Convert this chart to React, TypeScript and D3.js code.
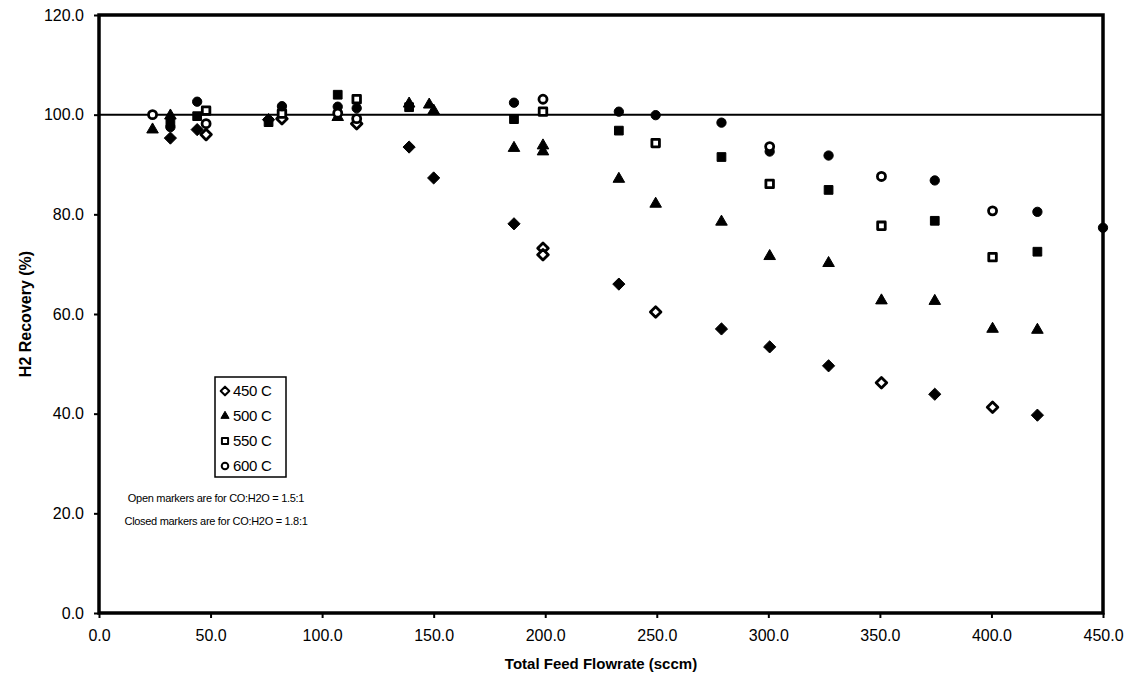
import React, { useEffect, useRef } from "react";
import * as d3 from "d3";

// [flowrate sccm, H2 recovery %]
const t450Closed: [number, number][] = [
  [32, 95.3], [44, 97.0], [76, 99.0], [139, 93.5], [150, 87.3], [186, 78.1],
  [233, 66.0], [279, 57.0], [300.6, 53.4], [327, 49.6], [374.6, 43.9], [420.6, 39.7],
];
const t450Open: [number, number][] = [
  [48, 96.0], [82, 99.2], [115.5, 98.2], [199, 73.2], [199, 71.9],
  [249.5, 60.4], [350.7, 46.2], [400.5, 41.3],
];
const t500Closed: [number, number][] = [
  [24, 97.0], [32, 99.8], [107, 99.5], [139, 102.2], [148, 102.0], [186, 93.3],
  [233, 87.1], [279, 78.5], [327, 70.2], [374.6, 62.6], [420.6, 56.8],
];
const t500Open: [number, number][] = [
  [150, 100.8], [199, 93.8], [199, 92.6], [249.5, 82.1], [300.6, 71.6],
  [350.7, 62.7], [400.5, 57.0],
];
const t550Closed: [number, number][] = [
  [32, 98.5], [44, 99.7], [76, 98.5], [107, 104.0], [139, 101.5], [186, 99.1],
  [233, 96.8], [279, 91.5], [327, 84.9], [374.6, 78.7], [420.6, 72.5],
];
const t550Open: [number, number][] = [
  [48, 100.8], [82, 100.2], [115.5, 103.1], [199, 100.6], [249.5, 94.3],
  [300.6, 86.1], [350.7, 77.7], [400.5, 71.4],
];
const t600Closed: [number, number][] = [
  [32, 97.5], [44, 102.6], [82, 101.7], [107, 101.6], [115.5, 101.3], [186, 102.4],
  [233, 100.6], [249.5, 99.9], [279, 98.4], [300.6, 92.6], [327, 91.8],
  [374.6, 86.8], [420.6, 80.5], [450, 77.3],
];
const t600Open: [number, number][] = [
  [24, 100.0], [48, 98.2], [107, 100.3], [115.5, 99.2], [199, 103.1],
  [300.6, 93.6], [350.7, 87.6], [400.5, 80.7],
];

const xTicks = [0, 50, 100, 150, 200, 250, 300, 350, 400, 450];
const yTicks = [0, 20, 40, 60, 80, 100, 120];
const legendLabels = ["450 C", "500 C", "550 C", "600 C"];
const notes = [
  "Open markers are for CO:H2O = 1.5:1",
  "Closed markers are for CO:H2O = 1.8:1",
];

const FONT = "'Liberation Sans', Arial, sans-serif";

export default function App() {
  const ref: any = useRef(null);

  useEffect(() => {
    document.body.style.margin = "0";
    const width = 1133;
    const height = 686;
    const m = { left: 99, right: 1103, top: 15, bottom: 613 };

    d3.select(ref.current).selectAll("*").remove();
    const svg = d3
      .select(ref.current)
      .append("svg")
      .attr("width", width)
      .attr("height", height)
      .style("display", "block")
      .style("background", "#fff");

    const x = d3.scaleLinear().domain([0, 450]).range([m.left, m.right]);
    const y = d3.scaleLinear().domain([0, 120]).range([m.bottom, m.top]);

    // axes (ticks + labels only, frame drawn separately)
    const xAxis = svg
      .append("g")
      .attr("transform", `translate(0, ${m.bottom})`)
      .call(
        d3.axisBottom(x).tickValues(xTicks).tickSize(5).tickPadding(12)
          .tickFormat((d: any) => d3.format(".1f")(d))
      );
    const yAxis = svg
      .append("g")
      .attr("transform", `translate(${m.left}, 0)`)
      .call(
        d3.axisLeft(y).tickValues(yTicks).tickSize(5).tickPadding(10)
          .tickFormat((d: any) => d3.format(".1f")(d))
      );
    [xAxis, yAxis].forEach((g) => {
      g.select(".domain").remove();
      g.selectAll("line").attr("stroke", "#000").attr("stroke-width", 2);
      g.selectAll("text")
        .attr("fill", "#000")
        .style("font-family", FONT)
        .style("font-size", "16px");
    });

    // reference line at 100 %
    svg
      .append("line")
      .attr("x1", m.left)
      .attr("x2", m.right)
      .attr("y1", y(100))
      .attr("y2", y(100))
      .attr("stroke", "#000")
      .attr("stroke-width", 2);

    // plot frame
    svg
      .append("rect")
      .attr("x", m.left)
      .attr("y", m.top)
      .attr("width", m.right - m.left)
      .attr("height", m.bottom - m.top)
      .attr("fill", "none")
      .attr("stroke", "#000")
      .attr("stroke-width", 3.5);

    const shapes: any = {
      "450": { type: d3.symbolDiamond2, size: 95 },
      "500": { type: d3.symbolTriangle, size: 58 },
      "550": { type: d3.symbolSquare, size: 76 },
      "600": { type: d3.symbolCircle, size: 68 },
    };

    const series = [
      { key: "450", data: t450Closed, open: false },
      { key: "450", data: t450Open, open: true },
      { key: "500", data: t500Closed, open: false },
      { key: "500", data: t500Open, open: false }, // triangles print solid
      { key: "550", data: t550Closed, open: false },
      { key: "550", data: t550Open, open: true },
      { key: "600", data: t600Closed, open: false },
      { key: "600", data: t600Open, open: true },
    ];

    const drawMarker = (g: any, key: string, open: boolean, cx: number, cy: number) => {
      const s = shapes[key];
      const sz = open ? s.size * 0.75 : s.size;
      g.append("path")
        .attr("d", d3.symbol().type(s.type).size(sz)())
        .attr("transform", `translate(${cx}, ${cy})`)
        .attr("fill", open ? "#fff" : "#000")
        .attr("stroke", "#000")
        .attr("stroke-width", open ? 2.8 : 1)
        .attr("stroke-linejoin", "round");
    };

    const pts = svg.append("g");
    series.forEach((s) => {
      s.data.forEach((d) => drawMarker(pts, s.key, s.open, x(d[0]), y(d[1])));
    });

    // legend
    const lg = svg.append("g");
    lg.append("rect")
      .attr("x", 215)
      .attr("y", 377)
      .attr("width", 71)
      .attr("height", 100)
      .attr("fill", "#fff")
      .attr("stroke", "#000")
      .attr("stroke-width", 1.5);
    const legendOpen = [true, false, true, true];
    ["450", "500", "550", "600"].forEach((k, i) => {
      const cy = 391 + i * 25;
      const s = shapes[k];
      lg.append("path")
        .attr("d", d3.symbol().type(s.type).size(s.size * 0.5)())
        .attr("transform", `translate(225, ${cy})`)
        .attr("fill", legendOpen[i] ? "#fff" : "#000")
        .attr("stroke", "#000")
        .attr("stroke-width", legendOpen[i] ? 2 : 1)
        .attr("stroke-linejoin", "round");
      lg.append("text")
        .attr("x", 233)
        .attr("y", cy)
        .attr("dy", "0.35em")
        .style("font-family", FONT)
        .style("font-size", "15px")
        .style("letter-spacing", "-0.3px")
        .text(legendLabels[i]);
    });

    notes.forEach((t, i) => {
      svg
        .append("text")
        .attr("x", 216)
        .attr("y", 498 + i * 23)
        .attr("dy", "0.35em")
        .attr("text-anchor", "middle")
        .style("font-family", FONT)
        .style("font-size", "11px")
        .style("letter-spacing", "-0.3px")
        .text(t);
    });

    // axis titles
    svg
      .append("text")
      .attr("x", (m.left + m.right) / 2)
      .attr("y", 664)
      .attr("dy", "0.35em")
      .attr("text-anchor", "middle")
      .style("font-family", FONT)
      .style("font-size", "15px")
      .style("font-weight", "bold")
      .text("Total Feed Flowrate (sccm)");
    svg
      .append("text")
      .attr("transform", `translate(25, ${(m.top + m.bottom) / 2}) rotate(-90)`)
      .attr("dy", "0.35em")
      .attr("text-anchor", "middle")
      .style("font-family", FONT)
      .style("font-size", "16px")
      .style("font-weight", "bold")
      .text("H2 Recovery (%)");
  }, []);

  return <div ref={ref} style={{ width: "1133px", height: "686px" }}></div>;
}
